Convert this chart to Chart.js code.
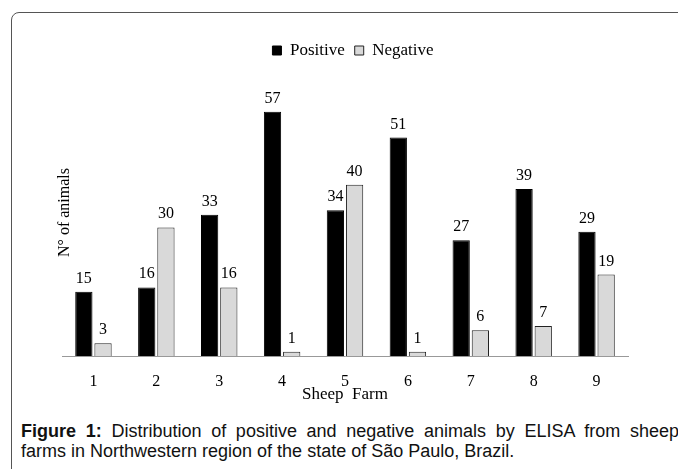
<!DOCTYPE html>
<html>
<head>
<meta charset="utf-8">
<script src="https://cdn.jsdelivr.net/npm/chart.js@4/dist/chart.umd.min.js"></script>
<style>
html,body{margin:0;padding:0;width:678px;height:469px;overflow:hidden;background:#fff;}
#frame{position:absolute;left:11px;top:12px;width:740px;height:500px;border:1.5px solid #555;border-radius:8px;box-sizing:border-box;}
#wrap{position:absolute;left:0;top:0;width:678px;height:420px;}
#cap{position:absolute;left:21px;top:421px;font-family:"Liberation Sans",Arial,sans-serif;font-size:18px;line-height:20px;color:#111;}
#cap .l1{width:658px;text-align:justify;text-align-last:justify;}
#cap b{font-weight:bold;}
</style>
</head>
<body>
<div id="frame"></div>
<div id="wrap"><canvas id="c" width="678" height="420"></canvas></div>
<div id="cap">
<div class="l1"><b>Figure 1:</b> Distribution of positive and negative animals by ELISA from sheep</div>
<div>farms in Northwestern region of the state of São Paulo, Brazil.</div>
</div>
<script>
const farms = ['1','2','3','4','5','6','7','8','9'];
const positive = [15,16,33,57,34,51,27,39,29];
const negative = [3,30,16,1,40,1,6,7,19];
const seriesNames = ['Positive','Negative'];
const xTitle = 'Sheep  Farm';
const yTitle = 'N° of animals';
const yMax = 67;

const serif = 'Liberation Serif';

const valueLabels = {
  id: 'valueLabels',
  afterDatasetsDraw(chart) {
    const ctx = chart.ctx;
    ctx.save();
    ctx.font = '16px "' + serif + '"';
    ctx.fillStyle = '#000';
    ctx.textAlign = 'center';
    ctx.textBaseline = 'alphabetic';
    chart.data.datasets.forEach((ds, i) => {
      const meta = chart.getDatasetMeta(i);
      meta.data.forEach((bar, j) => {
        ctx.fillText(String(ds.data[j]), bar.x, bar.y - 9);
      });
    });
    ctx.restore();
  }
};

new Chart(document.getElementById('c'), {
  type: 'bar',
  data: {
    labels: farms,
    datasets: [
      { label: seriesNames[0], data: positive, backgroundColor: '#000', borderColor: '#000', borderWidth: 1, barPercentage: 0.9, categoryPercentage: 0.61 },
      { label: seriesNames[1], data: negative, backgroundColor: '#d9d9d9', borderColor: '#222', borderWidth: 1, barPercentage: 0.9, categoryPercentage: 0.61 }
    ]
  },
  options: {
    responsive: false,
    animation: false,
    layout: { padding: { left: 55, right: 27, top: 32, bottom: 4 } },
    plugins: {
      legend: {
        position: 'top',
        labels: { font: { family: serif, size: 17 }, color: '#000', boxWidth: 9, boxHeight: 9, padding: 10 }
      },
      tooltip: { enabled: false }
    },
    scales: {
      x: {
        grid: { display: false, drawTicks: false },
        border: { display: true, color: '#999', width: 1 },
        ticks: { font: { family: serif, size: 16 }, color: '#000', padding: 16 },
        title: { display: true, text: xTitle, font: { family: serif, size: 17 }, color: '#000', padding: { top: 0, bottom: 11 } },
        afterFit(s) { s.height = 60; }
      },
      y: {
        min: 0, max: yMax,
        grid: { display: false, drawTicks: false },
        border: { display: false },
        ticks: { display: false },
        title: { display: true, text: yTitle, font: { family: serif, size: 16 }, color: '#000', padding: { top: 0, bottom: 0 } },
        afterFit(s) { s.width = 7; }
      },
      yRight: {
        type: 'linear', position: 'right', min: 0, max: yMax,
        grid: { display: false, drawTicks: false },
        border: { display: false },
        ticks: { display: false },
        afterFit(s) { s.width = 23; }
      }
    }
  },
  plugins: [valueLabels]
});
</script>
</body>
</html>
